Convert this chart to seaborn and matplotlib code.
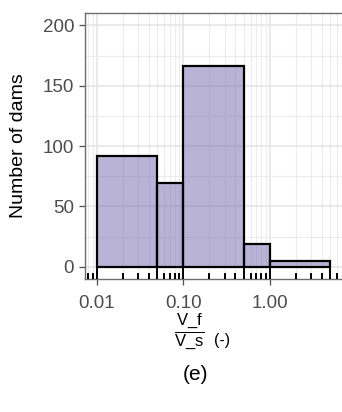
import numpy as np
import pandas as pd
import matplotlib
matplotlib.use("Agg")
import matplotlib.pyplot as plt
import seaborn as sns
from matplotlib.ticker import FixedLocator, NullFormatter

# ---- data ----
bin_edges = [0.01, 0.05, 0.1, 0.5, 1.0, 5.0]
dam_counts = [92, 69, 166, 19, 5]
x_tick_values = [0.01, 0.1, 1.0]
x_tick_labels = ["0.01", "0.10", "1.00"]
y_tick_values = [0, 50, 100, 150, 200]
y_minor_values = [25, 75, 125, 175]
log_decades = [0.001, 0.01, 0.1, 1.0]
log_short_mult = [2, 3, 4, 6, 7, 8, 9]
log_mid_mult = [5]
x_label = r"$\dfrac{\mathrm{V\_f}}{\mathrm{V\_s}}$"
x_unit = "(-)"
y_label = "Number of dams"
panel_tag = "(e)"

sns.set_theme(style="white")
plt.rcParams["font.family"] = ["Liberation Sans", "DejaVu Sans"]
plt.rcParams["mathtext.fontset"] = "custom"
plt.rcParams["mathtext.rm"] = "Liberation Sans"
plt.rcParams["mathtext.it"] = "Liberation Sans:italic"

edges = np.array(bin_edges)
centers = np.sqrt(edges[:-1] * edges[1:])
df = pd.DataFrame({"ratio": centers, "count": dam_counts})

W, H = 342, 412
fig = plt.figure(figsize=(W / 100, H / 100), dpi=100)
ax_h_px = 278.8 - 13.3
ax = fig.add_axes([85 / W, 1 - 278.8 / H, 1 - 85 / W, ax_h_px / H])

sns.histplot(data=df, x="ratio", weights="count",
             bins=[float(v) for v in np.log10(edges)],
             log_scale=True, ax=ax, color="#756BB1", edgecolor="black",
             linewidth=1.5)
for p in ax.patches:
    p.set_alpha(None)
    p.set_facecolor((0.459, 0.420, 0.694, 0.5))
    p.set_edgecolor("black")
    p.set_linewidth(1.6)
    p.set_zorder(3)

lo, hi = np.log10(edges[0]), np.log10(edges[-1])
pad = 0.05 * (hi - lo)
ax.set_xlim(10 ** (lo - pad), 10 ** (hi + pad))
ax.set_ylim(-10, 210)

short_pos = [m * d for d in log_decades for m in log_short_mult]
mid_pos = [m * d for d in log_decades for m in log_mid_mult]

ax.set_xticks(x_tick_values, labels=x_tick_labels)
ax.xaxis.set_minor_locator(FixedLocator(sorted(short_pos + mid_pos)))
ax.xaxis.set_minor_formatter(NullFormatter())
ax.set_yticks(y_tick_values)
ax.set_yticks(y_minor_values, minor=True)

ax.set_axisbelow(True)
ax.grid(True, which="major", color="#E6E6E6", lw=1.2, zorder=0)
ax.grid(True, which="minor", color="#ECECEC", lw=0.8, zorder=0)

ax.tick_params(which="major", direction="out", length=4.3, width=0.9,
               color="#4D4D4D", labelcolor="#4D4D4D", labelsize=13.5)
ax.tick_params(axis="x", which="major", pad=7.5, bottom=True)
ax.tick_params(axis="y", which="major", pad=3.6, left=True)
ax.tick_params(which="minor", length=0)

for name, sp in ax.spines.items():
    sp.set_color("#6E6E6E")
    sp.set_linewidth(1.0)
ax.spines["right"].set_visible(False)

# log ticks (annotation_logticks style): long / mid / short
xt = ax.get_xaxis_transform()
ax.vlines(x_tick_values, 0, 12.5 / ax_h_px, transform=xt, colors="black",
          lw=1.4, zorder=4)
ax.vlines(mid_pos, 0, 11.5 / ax_h_px, transform=xt, colors="black",
          lw=1.4, zorder=4)
ax.vlines(short_pos, 0, 6 / ax_h_px, transform=xt, colors="black",
          lw=1.4, zorder=4)

ax.set_ylabel(y_label, fontsize=14, color="black")
ax.yaxis.set_label_coords(-0.225, 0.5)
ax.set_xlabel(x_label, fontsize=12, color="black")
ax.xaxis.set_label_coords((189 - 85) / 257, -0.125)
fig.text(222 / W, 1 - 340 / H, x_unit, ha="center", va="center",
         fontsize=11.5, color="black")

fig.text(195 / W, 1 - 374 / H, panel_tag, ha="center", va="center",
         fontsize=15, color="black")

fig.savefig("out.png", dpi=100)
